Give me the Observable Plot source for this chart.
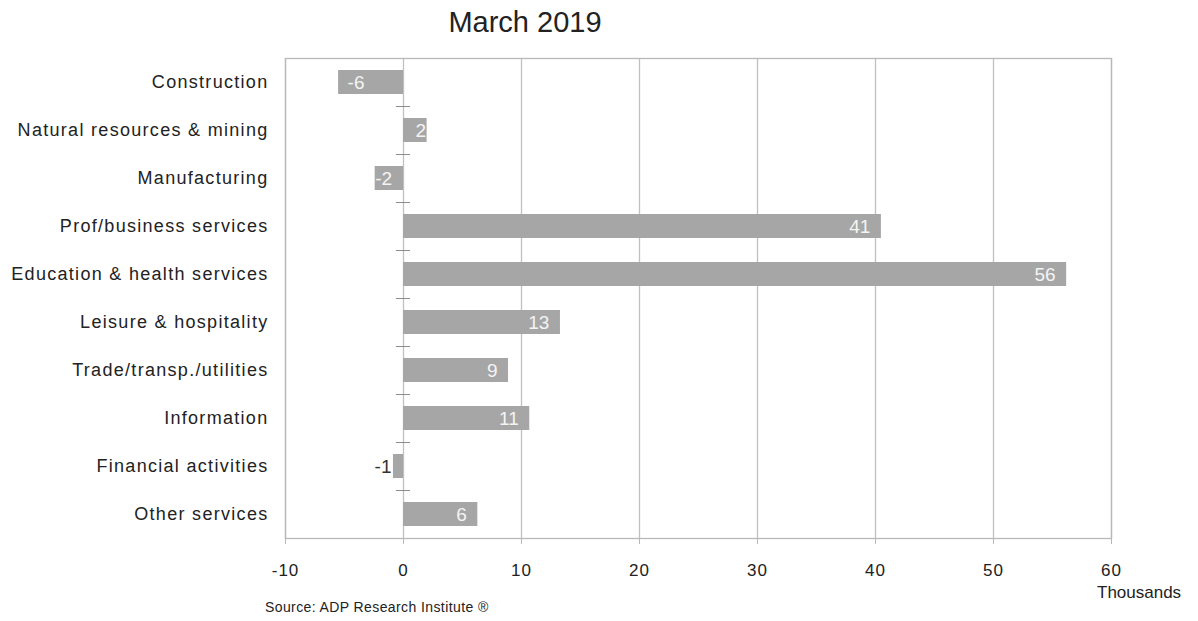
<!DOCTYPE html>
<html>
<head>
<meta charset="utf-8">
<script src="https://cdn.jsdelivr.net/npm/d3@7"></script>
<script src="https://cdn.jsdelivr.net/npm/@observablehq/plot@0.6"></script>
<style>
  html, body { margin: 0; padding: 0; background: #fff; }
  #wrap { position: relative; width: 1198px; height: 621px; font-family: "Liberation Sans", Arial, sans-serif; color: #222; }
  #chart { position: absolute; left: 0; top: 0; }
  .title { position: absolute; left: 0; width: 1050px; text-align: center; top: 6px; font-size: 29px; }
  .source { position: absolute; left: 265px; top: 599px; font-size: 14px; letter-spacing: 0.4px; }
  .unit { position: absolute; left: 1097px; top: 583px; font-size: 17px; }
  [aria-label="y-axis tick label"] text { letter-spacing: 1.3px; }
  [aria-label="x-axis tick label"] text { letter-spacing: 1px; }
</style>
</head>
<body>
<div id="wrap">
  <div id="chart"></div>
  <div class="title">March 2019</div>
  <div class="unit">Thousands</div>
  <div class="source">Source: ADP Research Institute ®</div>
</div>
<script>
const categories = [
  "Construction",
  "Natural resources & mining",
  "Manufacturing",
  "Prof/business services",
  "Education & health services",
  "Leisure & hospitality",
  "Trade/transp./utilities",
  "Information",
  "Financial activities",
  "Other services"
];
const values = [-5.5, 2.0, -2.4, 40.5, 56.2, 13.3, 8.9, 10.7, -0.85, 6.3];
const labels = ["-6", "2", "-2", "41", "56", "13", "9", "11", "-1", "6"];
const xTicks = [-10, 0, 10, 20, 30, 40, 50, 60];

const data = categories.map((c, i) => ({category: c, value: values[i], label: labels[i]}));

const chart = Plot.plot({
  width: 1198,
  height: 621,
  marginLeft: 285,
  marginRight: 87,
  marginTop: 58,
  marginBottom: 83,
  style: {fontFamily: "'Liberation Sans', Arial, sans-serif", background: "transparent", color: "#222"},
  x: {domain: [-10, 60], ticks: xTicks},
  y: {domain: categories, paddingInner: 0.5, paddingOuter: 0.25, label: null},
  marks: [
    Plot.ruleX(xTicks, {stroke: "#c0c0c0", strokeWidth: 1.3}),
    Plot.frame({stroke: "#b8b8b8", strokeWidth: 1.3}),
    Plot.barX(data, {x: "value", y: "category", fill: "#a6a6a6"}),
    Plot.ruleY(categories.slice(0, -1), {y: d => d, x1: -0.6, x2: 0.6, dy: 24, stroke: "#8c8c8c"}),
    Plot.text(data.filter(d => d.value >= 3), {x: "value", y: "category", text: "label", textAnchor: "end", dx: -11, fill: "#f4f4f4", fontSize: 19}),
    Plot.text(data.filter(d => d.value > 0 && d.value < 3), {x: "value", y: "category", text: "label", textAnchor: "end", dx: -1, fill: "#f4f4f4", fontSize: 19}),
    Plot.text(data.filter(d => d.value <= -3), {x: "value", y: "category", text: "label", textAnchor: "start", dx: 9, fill: "#f4f4f4", fontSize: 19}),
    Plot.text(data.filter(d => d.value > -3 && d.value <= -1.5), {x: "value", y: "category", text: "label", textAnchor: "start", dx: 0, fill: "#f4f4f4", fontSize: 19}),
    Plot.text(data.filter(d => d.value < 0 && d.value > -1.5), {x: "value", y: "category", text: "label", textAnchor: "end", dx: -2, fill: "#333", fontSize: 19}),
    Plot.axisX({ticks: xTicks, tickFormat: d => String(d), tickSize: 6, tickPadding: 19, fontSize: 17, stroke: "#b8b8b8", fill: "#222", label: null}),
    Plot.axisY({tickSize: 0, tickPadding: 17, fontSize: 18, fill: "#222", label: null})
  ]
});
document.getElementById("chart").appendChild(chart);
</script>
</body>
</html>
